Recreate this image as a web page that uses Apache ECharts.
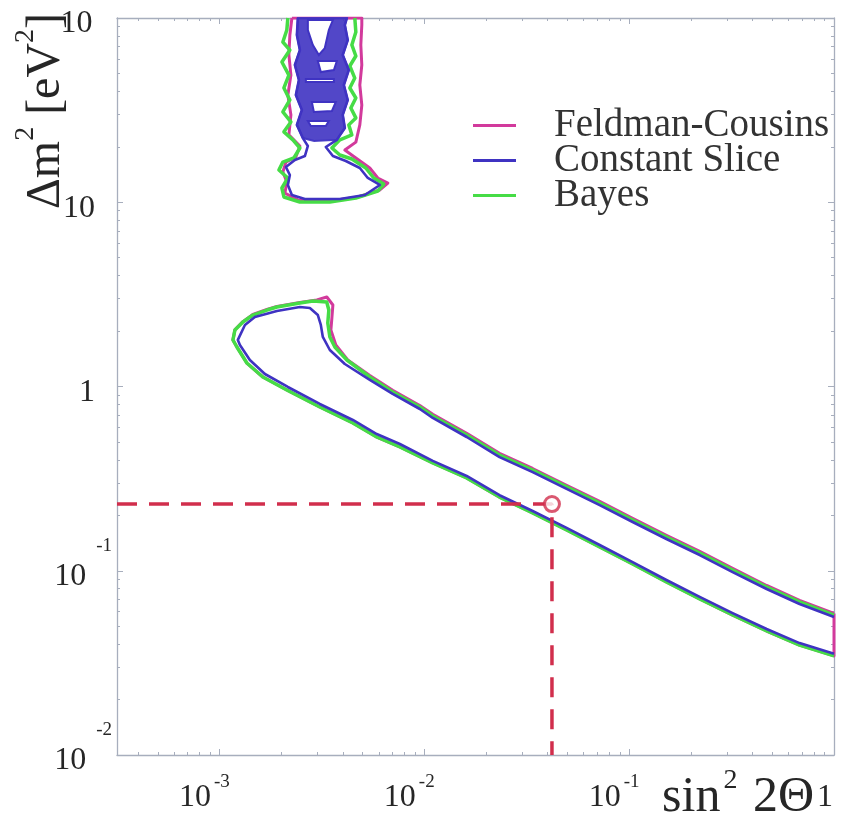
<!DOCTYPE html>
<html>
<head>
<meta charset="utf-8">
<script src="https://cdn.jsdelivr.net/npm/echarts@6/dist/echarts.min.js"></script>
<style>
  html, body { margin: 0; padding: 0; background: #ffffff; }
  #chart { width: 843px; height: 817px; }
</style>
</head>
<body>
<div id="chart"></div>
<script>
// ---- axis ranges (log10 scales) ----
const xRange = [Math.pow(10, -3.5), 1];
const yRange = [0.01, 100];

// ---- legend / series names ----
const seriesNames = ['Feldman-Cousins', 'Constant Slice', 'Bayes'];

// ---- best-fit point [sin^2 2theta, dm^2] ----
const bestFit = [0.042, 0.23];

// ---- Feldman-Cousins contours ----
const fcBand = [
  [1, 0.0587], [0.679, 0.069], [0.469, 0.0832], [0.320, 0.1029], [0.221, 0.1273],
  [0.152, 0.1556], [0.104, 0.1924], [0.0718, 0.238], [0.0495, 0.291], [0.0338, 0.359],
  [0.0233, 0.434], [0.0161, 0.557], [0.0110, 0.706], [0.00951, 0.789], [0.00701, 0.953],
  [0.00542, 1.149], [0.00423, 1.393], [0.0037, 1.68], [0.0035, 2.026], [0.00354, 2.354],
  [0.00358, 2.769], [0.003344, 3.06], [0.00299, 2.95], [0.00247, 2.86], [0.001908, 2.72],
  [0.001705, 2.62], [0.001456, 2.46], [0.001302, 2.25], [0.00119, 2.03], [0.001164, 1.79],
  [0.001217, 1.638], [0.001361, 1.341], [0.001629, 1.126], [0.002133, 0.957], [0.00309, 0.774],
  [0.00448, 0.634], [0.00586, 0.532], [0.0076, 0.470], [0.0110, 0.385], [0.0161, 0.319],
  [0.0233, 0.251], [0.0338, 0.206], [0.0495, 0.1665], [0.0718, 0.1346], [0.104, 0.1088],
  [0.152, 0.0869], [0.221, 0.0703], [0.320, 0.0575], [0.469, 0.0471], [0.679, 0.0395],
  [1, 0.0345], [1, 0.0587]
];
const fcIsland = [
  [2.258e-3, 100], [2.207e-3, 80.9], [2.183e-3, 63.0], [2.233e-3, 49.0], [2.158e-3, 38.2],
  [2.233e-3, 29.8], [2.183e-3, 23.2], [2.47e-3, 20.2], [2.361e-3, 17.6], [2.111e-3, 16.5],
  [2.04e-3, 14.6], [2.133e-3, 12.9], [2.087e-3, 11.2], [2.415e-3, 10.3], [3.459e-3, 10.16],
  [4.74e-3, 10.68], [6.07e-3, 11.66], [6.64e-3, 12.72], [5.93e-3, 13.54], [5.42e-3, 15.34],
  [4.634e-3, 17.39], [4.094e-3, 19.2], [4.634e-3, 21.2], [4.845e-3, 26.3], [4.955e-3, 33.7],
  [4.845e-3, 43.3], [4.955e-3, 55.6], [4.90e-3, 71.4], [4.955e-3, 91.6], [4.955e-3, 100],
  [2.258e-3, 100]
];

// ---- Bayes contours ----
const bayesBand = [
  [1, 0.0575], [0.679, 0.0677], [0.469, 0.0816], [0.320, 0.1009], [0.221, 0.1248],
  [0.152, 0.1525], [0.104, 0.1886], [0.0718, 0.233], [0.0495, 0.285], [0.0338, 0.352],
  [0.0233, 0.425], [0.0161, 0.546], [0.0110, 0.692], [0.00951, 0.774], [0.00701, 0.934],
  [0.00542, 1.126], [0.00419, 1.393], [0.00366, 1.638], [0.00346, 1.857], [0.00338, 2.211],
  [0.00342, 2.60], [0.00334, 2.875], [0.00286, 2.911], [0.00247, 2.84], [0.001908, 2.70],
  [0.001705, 2.60], [0.001456, 2.443], [0.001302, 2.239], [0.00119, 2.026], [0.001164, 1.788],
  [0.001217, 1.638], [0.001361, 1.341], [0.001629, 1.126], [0.002133, 0.957], [0.00309, 0.774],
  [0.00448, 0.634], [0.00586, 0.532], [0.0076, 0.470], [0.0110, 0.385], [0.0161, 0.319],
  [0.0233, 0.251], [0.0338, 0.206], [0.0495, 0.1665], [0.0718, 0.1346], [0.104, 0.1088],
  [0.152, 0.0869], [0.221, 0.0703], [0.320, 0.0575], [0.469, 0.0471], [0.679, 0.0395],
  [1, 0.0345]
];
const bayesIsland = [
  [2.158e-3, 100], [2.133e-3, 86.1], [2.04e-3, 74.1], [2.207e-3, 67.0], [2.018e-3, 57.7],
  [2.183e-3, 49.0], [2.064e-3, 41.7], [2.207e-3, 35.9], [2.04e-3, 30.9], [2.233e-3, 27.3],
  [2.064e-3, 24.1], [2.283e-3, 21.8], [2.47e-3, 19.7], [2.309e-3, 17.39], [2.04e-3, 16.53],
  [1.951e-3, 14.96], [2.158e-3, 13.54], [2.018e-3, 11.95], [2.064e-3, 10.68], [2.47e-3, 10.03],
  [3.459e-3, 10.03], [4.634e-3, 10.55], [5.93e-3, 11.51], [6.34e-3, 12.56], [5.67e-3, 13.54],
  [5.18e-3, 15.34], [4.43e-3, 17.17], [3.871e-3, 18.05], [3.54e-3, 19.7], [3.871e-3, 21.8],
  [4.43e-3, 23.2], [4.28e-3, 26.3], [4.634e-3, 28.7], [4.38e-3, 32.5], [4.634e-3, 36.8],
  [4.33e-3, 41.7], [4.58e-3, 47.2], [4.33e-3, 54.9], [4.634e-3, 62.2], [4.43e-3, 71.4],
  [4.634e-3, 83.9], [4.58e-3, 100]
];

// ---- Constant Slice contours ----
const csBand = [
  [1, 0.0561], [0.679, 0.066], [0.469, 0.0796], [0.320, 0.0984], [0.221, 0.1217],
  [0.152, 0.1487], [0.104, 0.1839], [0.0718, 0.227], [0.0495, 0.278], [0.0338, 0.343],
  [0.0233, 0.414], [0.0161, 0.532], [0.0110, 0.675], [0.00951, 0.755], [0.00701, 0.911],
  [0.00542, 1.085], [0.004094, 1.325], [0.003459, 1.578], [0.003197, 1.857], [0.003126, 2.157],
  [0.003023, 2.443], [0.002763, 2.667], [0.00247, 2.70], [0.001908, 2.57], [0.001489, 2.384],
  [0.001332, 2.157], [0.00123, 1.79], [0.001259, 1.68], [0.001408, 1.393], [0.001667, 1.169],
  [0.002158, 0.994], [0.00309, 0.804], [0.00448, 0.658], [0.00586, 0.552], [0.0076, 0.4875],
  [0.0110, 0.395], [0.0161, 0.327], [0.0233, 0.257], [0.0338, 0.211], [0.0495, 0.1707],
  [0.0718, 0.138], [0.104, 0.1115], [0.152, 0.0891], [0.221, 0.0721], [0.320, 0.0589],
  [0.469, 0.0483], [0.679, 0.0405], [1, 0.0354]
];
const csIsland = [
  [2.415e-3, 100], [2.388e-3, 80.9], [2.47e-3, 67.0], [2.335e-3, 55.6], [2.443e-3, 46.1],
  [2.361e-3, 38.2], [2.526e-3, 31.7], [2.388e-3, 26.3], [2.554e-3, 22.3], [2.702e-3, 20.2],
  [2.613e-3, 17.82], [2.335e-3, 16.96], [2.111e-3, 15.54], [2.207e-3, 14.06], [2.158e-3, 12.41],
  [2.258e-3, 10.95], [2.613e-3, 10.41], [3.871e-3, 10.41], [5.125e-3, 10.95], [6.07e-3, 12.41],
  [5.30e-3, 13.54], [4.845e-3, 15.34], [4.14e-3, 16.74], [3.58e-3, 17.82], [3.306e-3, 19.95],
  [3.742e-3, 21.8], [4.094e-3, 25.3], [4.0e-3, 29.8], [4.23e-3, 35.9], [4.05e-3, 43.3],
  [4.28e-3, 52.2], [4.0e-3, 63.0], [4.23e-3, 75.9], [4.094e-3, 91.6], [4.19e-3, 100]
];
// densely filled upper part of the Constant Slice island, with its open pockets
const csIslandCore = [
  [2.415e-3, 100], [2.388e-3, 80.9], [2.47e-3, 67.0], [2.335e-3, 55.6], [2.443e-3, 46.1],
  [2.361e-3, 38.2], [2.526e-3, 31.7], [2.388e-3, 26.3], [2.554e-3, 22.3], [2.9e-3, 21.5],
  [3.742e-3, 21.8], [4.094e-3, 25.3], [4.0e-3, 29.8], [4.23e-3, 35.9], [4.05e-3, 43.3],
  [4.28e-3, 52.2], [4.0e-3, 63.0], [4.23e-3, 75.9], [4.094e-3, 91.6], [4.19e-3, 100]
];
const csIslandPockets = [
  [[2.702e-3, 97.5], [3.58e-3, 97.5], [3.42e-3, 86.1], [3.269e-3, 68.7], [3.057e-3, 63.0], [2.858e-3, 71.4], [2.702e-3, 86.1]],
  [[3.023e-3, 58.4], [3.742e-3, 58.4], [3.62e-3, 52.2], [3.126e-3, 50.9]],
  [[2.642e-3, 46.7], [3.62e-3, 46.7], [3.62e-3, 44.9], [2.642e-3, 44.9]],
  [[2.826e-3, 35.0], [3.70e-3, 35.0], [3.54e-3, 31.3], [2.891e-3, 30.9]],
  [[2.702e-3, 27.6], [3.42e-3, 27.6], [3.306e-3, 25.9], [2.794e-3, 25.9]]
];

// ---- styling ----
const COLORS = { fc: '#d23a9c', cs: '#3f33c2', bayes: '#46dc46', fit: '#d12e4c' };
const FRAME = '#a7aebd';
const SERIF = 'Liberation Serif, Times New Roman, serif';
const INK = '#262626';

function contourSeries(name, color, data, width, z) {
  return {
    name: name, type: 'line', data: data, color: color,
    xAxisIndex: 0, yAxisIndex: 0,
    showSymbol: false, symbol: 'none', smooth: false, silent: true,
    lineStyle: { color: color, width: width, join: 'round' },
    z: z, animation: false
  };
}

// decade labels: 10 with a raised exponent; 1 and 10 written plainly
function xLabel(value) {
  const e = Math.log10(value);
  const r = Math.round(e);
  if (Math.abs(e - r) > 1e-6) return '';
  if (r === 0) return '{b|1}{g1|}';
  return '{b|10}{s|' + r + '}{g|}';
}
function yLabel(value) {
  const e = Math.log10(value);
  const r = Math.round(e);
  if (Math.abs(e - r) > 1e-6) return '';
  if (r === 0) return '{b|1}{g|}';
  if (r === 1) return '{b|10}{g|}';
  return '{b|10}{s|' + r + '}{h|}';
}

const xRich = {
  b: { fontFamily: SERIF, fontSize: 32, color: INK, lineHeight: 32, verticalAlign: 'bottom' },
  s: { fontFamily: SERIF, fontSize: 19, color: INK, lineHeight: 20, verticalAlign: 'top', padding: [0, 0, 0, 3] },
  g: { width: 30, lineHeight: 41 },
  g1: { width: 18, lineHeight: 41 }
};
const yRich = {
  b: { fontFamily: SERIF, fontSize: 32, color: INK, lineHeight: 32, verticalAlign: 'bottom' },
  s: { fontFamily: SERIF, fontSize: 19, color: INK, lineHeight: 20, verticalAlign: 'top', padding: [0, 0, 0, 10] },
  g: { width: 17, lineHeight: 56 },
  h: { width: 0, lineHeight: 56 }
};

const axisCommon = {
  type: 'log', logBase: 10,
  axisLine: { show: true, lineStyle: { color: FRAME, width: 1.3 } },
  axisTick: { show: true, inside: true, length: 6, lineStyle: { color: FRAME, width: 1 } },
  minorTick: { show: true, splitNumber: 9, length: 3, lineStyle: { color: FRAME, width: 1 } },
  splitLine: { show: false },
  minorSplitLine: { show: false }
};

const chart = echarts.init(document.getElementById('chart'), null, { renderer: 'canvas' });

const islandFill = [csIslandCore].concat(csIslandPockets);

const series = [
  contourSeries(seriesNames[0], COLORS.fc, fcBand, 3, 2),
  contourSeries(seriesNames[0], COLORS.fc, fcIsland, 3, 2),
  contourSeries(seriesNames[2], COLORS.bayes, bayesBand, 3.5, 3),
  contourSeries(seriesNames[2], COLORS.bayes, bayesIsland, 3.5, 3),
  {
    type: 'custom', xAxisIndex: 0, yAxisIndex: 0, silent: true, z: 3.5, animation: false,
    data: islandFill.map(function (p) { return p[0]; }),
    renderItem: function (params, api) {
      const poly = islandFill[params.dataIndex];
      return {
        type: 'polygon',
        shape: { points: poly.map(function (p) { return api.coord(p); }) },
        style: { fill: params.dataIndex === 0 ? COLORS.cs : '#ffffff', stroke: COLORS.cs, lineWidth: 2, opacity: params.dataIndex === 0 ? 0.9 : 1 }
      };
    }
  },
  contourSeries(seriesNames[1], COLORS.cs, csBand, 2.6, 4),
  contourSeries(seriesNames[1], COLORS.cs, csIsland, 2.6, 4),
  {
    type: 'line', xAxisIndex: 0, yAxisIndex: 0, silent: true, animation: false,
    data: [[xRange[0], bestFit[1]], bestFit, [bestFit[0], yRange[0]]],
    showSymbol: false, symbol: 'none',
    lineStyle: { color: COLORS.fit, width: 3.5, type: [20, 12] },
    z: 5
  },
  {
    type: 'scatter', xAxisIndex: 0, yAxisIndex: 0, silent: true, animation: false,
    data: [bestFit], symbol: 'circle', symbolSize: 15,
    itemStyle: { color: '#ffffff', borderColor: COLORS.fit, borderWidth: 3 },
    z: 6
  }
];

chart.setOption({
  animation: false,
  backgroundColor: '#ffffff',
  grid: { left: 117, right: 9, top: 18, bottom: 62, containLabel: false, outerBoundsMode: 'none' },
  legend: {
    data: seriesNames,
    orient: 'vertical', left: 468, top: 101,
    icon: 'rect', itemWidth: 43, itemHeight: 3, itemGap: -4,
    selectedMode: false,
    textStyle: { fontFamily: SERIF, fontSize: 39, color: '#333333', lineHeight: 32, padding: [0, 0, 0, 33] }
  },
  xAxis: [
    Object.assign({}, axisCommon, {
      position: 'bottom', min: xRange[0], max: xRange[1],
      axisLabel: { show: true, margin: 18, formatter: xLabel, rich: xRich }
    }),
    Object.assign({}, axisCommon, {
      position: 'top', min: xRange[0], max: xRange[1], axisLabel: { show: false }
    })
  ],
  yAxis: [
    Object.assign({}, axisCommon, {
      position: 'left', min: yRange[0], max: yRange[1],
      axisLabel: { show: true, margin: 5, padding: [0, 0, 12, 0], formatter: yLabel, rich: yRich }
    }),
    Object.assign({}, axisCommon, {
      position: 'right', min: yRange[0], max: yRange[1], axisLabel: { show: false }
    })
  ],
  graphic: [
    {
      type: 'text', x: 41, y: 111, rotation: Math.PI / 2, silent: true,
      style: {
        text: '{a|Δm}{s|2}{a| [eV}{s|2}{a|]}',
        align: 'center', verticalAlign: 'middle',
        rich: {
          a: { fontFamily: SERIF, fontSize: 48, fill: INK, lineHeight: 58, verticalAlign: 'bottom' },
          s: { fontFamily: SERIF, fontSize: 28, fill: INK, lineHeight: 30, verticalAlign: 'top' }
        }
      }
    },
    {
      type: 'text', x: 814, y: 795, silent: true,
      style: {
        text: '{a|sin}{s|2}{a| 2Θ}',
        align: 'right', verticalAlign: 'middle',
        rich: {
          a: { fontFamily: SERIF, fontSize: 50, fill: INK, lineHeight: 56, verticalAlign: 'bottom' },
          s: { fontFamily: SERIF, fontSize: 28, fill: INK, lineHeight: 30, verticalAlign: 'top', padding: [0, 3, 0, 3] }
        }
      }
    }
  ],
  series: series
});
</script>
</body>
</html>
